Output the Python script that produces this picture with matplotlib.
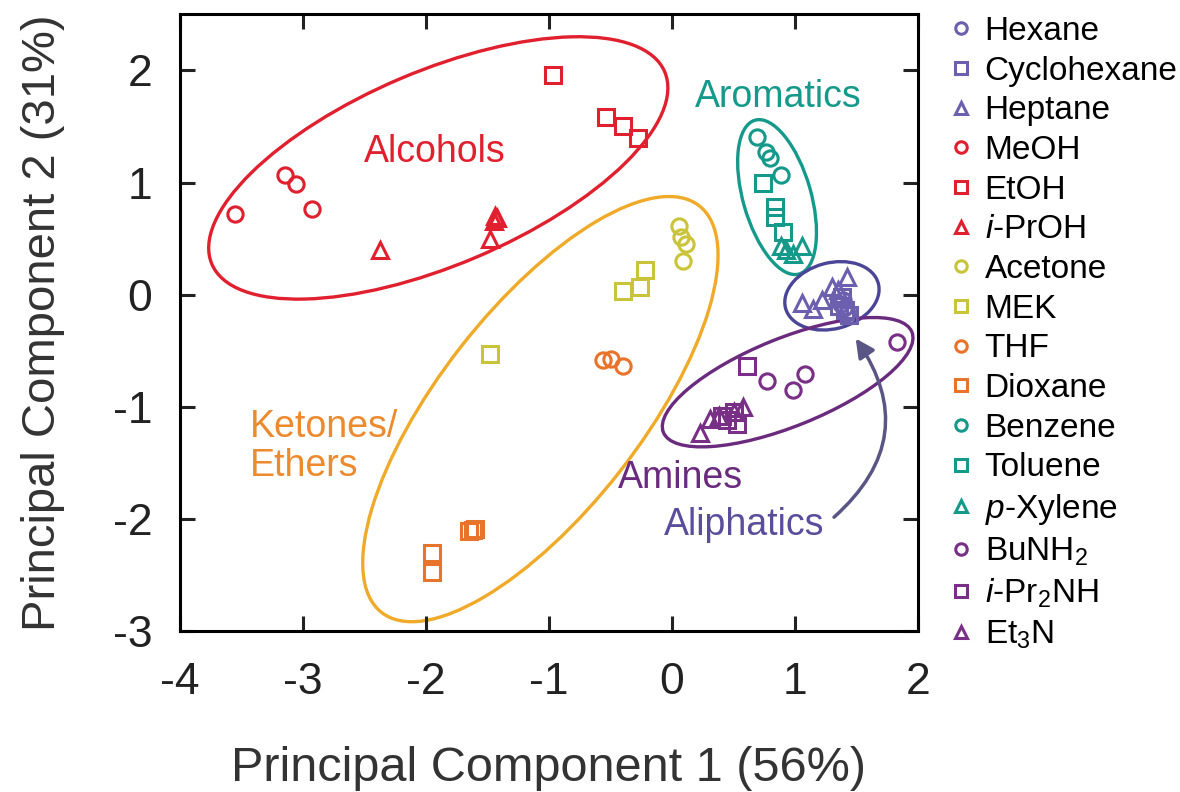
import matplotlib
matplotlib.use("Agg")
import matplotlib.pyplot as plt
from matplotlib.patches import Ellipse
from matplotlib.transforms import ScaledTranslation

plt.rcParams["font.family"] = ["Liberation Sans", "DejaVu Sans"]
plt.rcParams["mathtext.fontset"] = "custom"
plt.rcParams["mathtext.rm"] = "Liberation Sans"
plt.rcParams["mathtext.it"] = "Liberation Sans:italic"
plt.rcParams["axes.unicode_minus"] = False

# solvent scores on PC1 / PC2
hexane_x = [1.37, 1.40, 1.42, 1.39]
hexane_y = [-0.08, -0.12, -0.16, -0.05]
cyclohexane_x = [1.36, 1.41, 1.44, 1.38]
cyclohexane_y = [-0.10, -0.14, -0.18, -0.02]
heptane_x = [1.06, 1.15, 1.22, 1.30, 1.35, 1.42]
heptane_y = [-0.07, -0.13, -0.05, 0.07, 0.04, 0.16]
meoh_x = [-3.55, -3.15, -3.06, -2.93]
meoh_y = [0.72, 1.07, 0.99, 0.76]
etoh_x = [-0.97, -0.54, -0.40, -0.28]
etoh_y = [1.96, 1.58, 1.50, 1.40]
iproh_x = [-2.37, -1.48, -1.44, -1.42, -1.45]
iproh_y = [0.40, 0.50, 0.70, 0.68, 0.66]
acetone_x = [0.06, 0.07, 0.11, 0.09]
acetone_y = [0.61, 0.51, 0.45, 0.30]
mek_x = [-0.40, -0.26, -0.22, -1.48]
mek_y = [0.03, 0.07, 0.22, -0.53]
thf_x = [-0.56, -0.50, -0.40]
thf_y = [-0.58, -0.57, -0.64]
dioxane_x = [-1.65, -1.62, -1.60, -1.95, -1.95]
dioxane_y = [-2.11, -2.10, -2.09, -2.30, -2.47]
benzene_x = [0.69, 0.76, 0.80, 0.89]
benzene_y = [1.41, 1.27, 1.22, 1.07]
toluene_x = [0.74, 0.84, 0.84, 0.90]
toluene_y = [1.00, 0.78, 0.69, 0.56]
xylene_x = [0.89, 0.93, 0.98, 1.06]
xylene_y = [0.43, 0.40, 0.36, 0.43]
bunh2_x = [1.83, 0.77, 0.98, 1.08]
bunh2_y = [-0.42, -0.77, -0.85, -0.71]
ipr2nh_x = [0.61, 0.41, 0.45, 0.50, 0.53]
ipr2nh_y = [-0.64, -1.08, -1.12, -1.05, -1.15]
et3n_x = [0.23, 0.31, 0.38, 0.50, 0.58]
et3n_y = [-1.23, -1.11, -1.08, -1.05, -1.00]

c_ali = "#6b5fae"
c_alc = "#e0202e"
c_ket = "#c9c43a"
c_eth = "#e8732a"
c_aro = "#14998a"
c_ami = "#7a2f87"

series = [
    ("Hexane", hexane_x, hexane_y, "o", c_ali),
    ("Cyclohexane", cyclohexane_x, cyclohexane_y, "s", c_ali),
    ("Heptane", heptane_x, heptane_y, "^", c_ali),
    ("MeOH", meoh_x, meoh_y, "o", c_alc),
    ("EtOH", etoh_x, etoh_y, "s", c_alc),
    (r"$\it{i}$-PrOH", iproh_x, iproh_y, "^", c_alc),
    ("Acetone", acetone_x, acetone_y, "o", c_ket),
    ("MEK", mek_x, mek_y, "s", c_ket),
    ("THF", thf_x, thf_y, "o", c_eth),
    ("Dioxane", dioxane_x, dioxane_y, "s", c_eth),
    ("Benzene", benzene_x, benzene_y, "o", c_aro),
    ("Toluene", toluene_x, toluene_y, "s", c_aro),
    (r"$\it{p}$-Xylene", xylene_x, xylene_y, "^", c_aro),
    (r"BuNH$_2$", bunh2_x, bunh2_y, "o", c_ami),
    (r"$\it{i}$-Pr$_2$NH", ipr2nh_x, ipr2nh_y, "s", c_ami),
    (r"Et$_3$N", et3n_x, et3n_y, "^", c_ami),
]

fig = plt.figure(figsize=(11.8, 7.92), dpi=100)
ax = fig.add_axes([0.1525, 0.203, 0.6255, 0.779])

for label, xs, ys, m, c in series:
    ax.plot(xs, ys, linestyle="none", marker=m, markersize=11,
            markerfacecolor="none", markeredgecolor=c, markeredgewidth=2.2,
            label=label)

# group ellipses: (center x, center y) in data, width/height in inches, angle
groups = [
    ((-1.90, 1.13), 4.92, 1.94, 23, "#e0202e"),
    ((-1.07, -1.02), 5.16, 2.02, 52, "#f0aa2a"),
    ((0.854, 0.87), 1.60, 0.68, 106, "#14998a"),
    ((1.30, -0.01), 0.96, 0.66, 15, "#4b4597"),
    ((0.94, -0.78), 2.68, 0.88, 22, "#6a2a7e"),
]
for (cx, cy), w, h, ang, c in groups:
    tr = fig.dpi_scale_trans + ScaledTranslation(cx, cy, ax.transData)
    ax.add_patch(Ellipse((0, 0), w, h, angle=ang, transform=tr,
                         fill=False, edgecolor=c, linewidth=2.4))

ax.text(-1.93, 1.27, "Alcohols", color="#e0202e", fontsize=27,
        ha="center", va="center")
ax.text(0.86, 1.76, "Aromatics", color="#14998a", fontsize=27,
        ha="center", va="center")
ax.text(-3.43, -1.35, "Ketones/\nEthers", color="#ec8a2e", fontsize=27,
        ha="left", va="center", linespacing=1.1)
ax.text(0.07, -1.63, "Amines", color="#6a2a7e", fontsize=27,
        ha="center", va="center")
ax.text(0.59, -2.05, "Aliphatics", color="#5a4d9c", fontsize=27,
        ha="center", va="center")
ax.annotate("", xy=(1.48, -0.37), xytext=(1.30, -2.0),
            arrowprops=dict(arrowstyle="-|>", color="#5a5585", lw=2.5,
                            mutation_scale=28,
                            connectionstyle="arc3,rad=0.45"))

ax.set_xlim(-4, 2)
ax.set_ylim(-3, 2.5)
ax.set_xticks([-4, -3, -2, -1, 0, 1, 2])
ax.set_yticks([-3, -2, -1, 0, 1, 2])
ax.tick_params(direction="in", length=11, width=2.2, top=True, right=True,
               labelsize=32, colors="#222222")
ax.tick_params(axis="x", pad=22)
ax.tick_params(axis="y", pad=20)
for s in ax.spines.values():
    s.set_linewidth(2.2)
ax.set_xlabel("Principal Component 1 (56%)", fontsize=35, color="#333333",
              labelpad=31)
ax.set_ylabel("Principal Component 2 (31%)", fontsize=34, color="#333333",
              labelpad=34)

ax.legend(loc="upper left", bbox_to_anchor=(1.0, 1.035), frameon=False,
          fontsize=24, handletextpad=0.1, labelspacing=0.26,
          handlelength=1.2, markerscale=0.75, borderaxespad=0.3)

fig.savefig("out.png", dpi=100)
